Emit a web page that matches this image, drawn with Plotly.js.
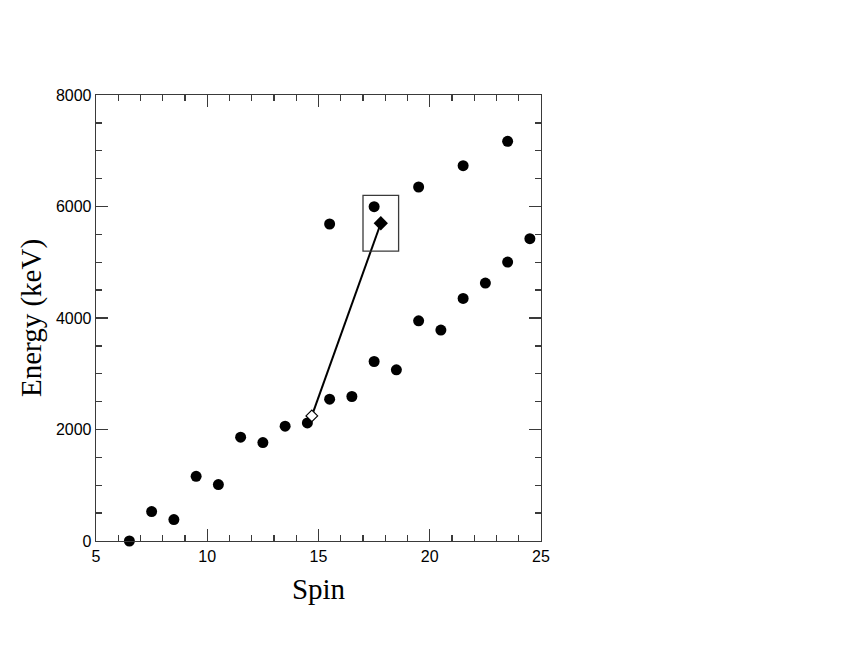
<!DOCTYPE html>
<html>
<head>
<meta charset="utf-8">
<script src="https://cdn.plot.ly/plotly-3.0.1.min.js"></script>
<style>html,body{margin:0;padding:0;background:#fff;}#chart{width:847px;height:655px;}</style>
</head>
<body>
<div id="chart"></div>
<script>
// Lower band (yrast-like sequence)
const lowerSpin   = [6.5, 7.5, 8.5, 9.5, 10.5, 11.5, 12.5, 13.5, 14.5, 15.5, 16.5, 17.5, 18.5, 19.5, 20.5, 21.5, 22.5, 23.5, 24.5];
const lowerEnergy = [0, 528, 384, 1161, 1012, 1862, 1766, 2059, 2118, 2544, 2592, 3220, 3070, 3950, 3783, 4352, 4626, 5004, 5422];
// Upper band
const upperSpin   = [15.5, 17.5, 19.5, 21.5, 23.5];
const upperEnergy = [5686, 5997, 6350, 6733, 7170];
// Connected diamonds
const openDiamondSpin = [14.7];
const openDiamondEnergy = [2244];
const filledDiamondSpin = [17.8];
const filledDiamondEnergy = [5700];
// Highlight box
const boxSpin = [17.0, 18.6];
const boxEnergy = [5200, 6200];

const axisColor = '#3a3a3a';
const traces = [
  {x: lowerSpin.concat(upperSpin), y: lowerEnergy.concat(upperEnergy), mode: 'markers', type: 'scatter',
   marker: {symbol: 'circle', size: 11, color: '#000'}, cliponaxis: false, hoverinfo: 'x+y'},
  {x: openDiamondSpin.concat(filledDiamondSpin), y: openDiamondEnergy.concat(filledDiamondEnergy), mode: 'lines', type: 'scatter',
   line: {color: '#000', width: 2}, cliponaxis: false},
  {x: openDiamondSpin, y: openDiamondEnergy, mode: 'markers', type: 'scatter',
   marker: {symbol: 'diamond', size: 9, color: '#fff', line: {color: '#000', width: 1.2}}, cliponaxis: false},
  {x: filledDiamondSpin, y: filledDiamondEnergy, mode: 'markers', type: 'scatter',
   marker: {symbol: 'diamond', size: 11, color: '#000'}, cliponaxis: false}
];

const layout = {
  width: 847, height: 655,
  margin: {l: 96, r: 306, t: 95, b: 114},
  paper_bgcolor: '#fff', plot_bgcolor: '#fff',
  showlegend: false,
  font: {family: 'Liberation Sans, Arial, sans-serif', size: 16, color: '#000'},
  xaxis: {
    range: [5, 25], tickvals: [5, 10, 15, 20, 25], ticktext: ['5', '10', '15', '20', '25'],
    ticks: 'inside', ticklen: 12, tickwidth: 1.3, tickcolor: axisColor,
    minor: {dtick: 1, tick0: 5, ticks: 'inside', ticklen: 6, tickwidth: 1.3, tickcolor: axisColor, showgrid: false},
    showline: true, linecolor: axisColor, linewidth: 1.3, mirror: 'ticks',
    showgrid: false, zeroline: false,
    tickfont: {family: 'Liberation Sans, Arial, sans-serif', size: 16},
    title: {text: 'Spin', font: {family: 'Liberation Serif, Times New Roman, serif', size: 29}, standoff: 15}
  },
  yaxis: {
    range: [0, 8000], tickvals: [0, 2000, 4000, 6000, 8000], ticktext: ['0', '2000', '4000', '6000', '8000'],
    ticks: 'inside', ticklen: 12, tickwidth: 1.3, tickcolor: axisColor,
    minor: {dtick: 500, tick0: 0, ticks: 'inside', ticklen: 6, tickwidth: 1.3, tickcolor: axisColor, showgrid: false},
    showline: true, linecolor: axisColor, linewidth: 1.3, mirror: 'ticks',
    showgrid: false, zeroline: false,
    tickfont: {family: 'Liberation Sans, Arial, sans-serif', size: 16},
    title: {text: 'Energy (keV)', font: {family: 'Liberation Serif, Times New Roman, serif', size: 29}, standoff: 5}
  },
  shapes: [{type: 'rect', xref: 'x', yref: 'y', x0: boxSpin[0], x1: boxSpin[1], y0: boxEnergy[0], y1: boxEnergy[1],
            line: {color: axisColor, width: 1.3}, fillcolor: 'rgba(0,0,0,0)', layer: 'above'}]
};

Plotly.newPlot('chart', traces, layout, {displayModeBar: false, staticPlot: true});
</script>
</body>
</html>
